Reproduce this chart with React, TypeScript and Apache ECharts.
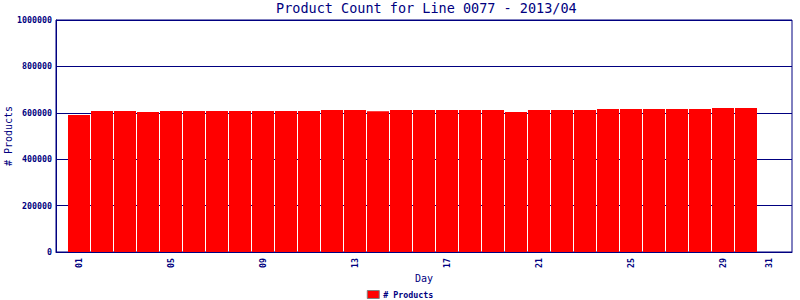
import React, { useEffect, useRef } from "react";
import * as echarts from "echarts";

const titleText = "Product Count for Line 0077 - 2013/04";
const days = [1,2,3,4,5,6,7,8,9,10,11,12,13,14,15,16,17,18,19,20,21,22,23,24,25,26,27,28,29,30];
const products = [
  590000, 608000, 608000, 603000, 608000, 608000, 608000, 608000, 608000, 608000,
  608000, 612000, 612000, 607000, 612000, 612000, 612000, 612000, 612000, 603000,
  612000, 612000, 612000, 616000, 616000, 616000, 616000, 616000, 621000, 621000,
];
const xLabelDays = [1, 5, 9, 13, 17, 21, 25, 29, 31];
const seriesName = "# Products";

const NAVY = "#000080";
const MONO = "'DejaVu Sans Mono', monospace";

export default function App() {
  const ref = useRef<HTMLDivElement>(null);
  useEffect(() => {
    if (!ref.current) return;
    const chart = echarts.init(ref.current, undefined, { renderer: "svg" });
    chart.setOption({
      animation: false,
      backgroundColor: "#ffffff",
      title: {
        text: titleText,
        left: 276,
        top: 1,
        padding: 0,
        textStyle: { fontFamily: MONO, fontSize: 13.5, fontWeight: "normal", color: NAVY },
      },
      legend: {
        data: [seriesName],
        left: "center",
        bottom: 1,
        padding: 0,
        itemWidth: 12,
        itemHeight: 8,
        itemGap: 4,
        icon: "rect",
        itemStyle: { borderColor: "#808080", borderWidth: 1 },
        textStyle: { fontFamily: MONO, fontSize: 8.3, fontWeight: "bold", color: NAVY, padding: [0, 0, 0, -1] },
      },
      grid: {
        left: 56,
        right: 8,
        top: 20,
        bottom: 48,
        containLabel: false,
        outerBoundsMode: "none",
        show: true,
        borderColor: NAVY,
        borderWidth: 1,
        backgroundColor: "transparent",
      },
      xAxis: {
        type: "value",
        min: 0,
        max: 32,
        interval: 1,
        name: "Day",
        nameLocation: "middle",
        nameGap: 21,
        nameMoveOverlap: false,
        nameTextStyle: { fontFamily: MONO, fontSize: 10, color: NAVY },
        axisLine: { show: true, lineStyle: { color: NAVY, width: 1 } },
        axisTick: { show: false },
        splitLine: { show: false },
        axisLabel: {
          rotate: 90,
          margin: 6,
          fontFamily: MONO,
          fontSize: 8.3,
          fontWeight: "bold",
          color: NAVY,
          showMinLabel: true,
          showMaxLabel: true,
          formatter: (v: number) => (xLabelDays.includes(v) ? String(v).padStart(2, "0") : ""),
        },
      },
      yAxis: {
        type: "value",
        min: 0,
        max: 1000000,
        interval: 200000,
        name: "# Products",
        nameLocation: "middle",
        nameGap: 43,
        nameMoveOverlap: false,
        nameTextStyle: { fontFamily: MONO, fontSize: 10, color: NAVY },
        axisLine: { show: true, lineStyle: { color: NAVY, width: 1 } },
        axisTick: { show: false },
        splitLine: { show: true, lineStyle: { color: NAVY, width: 1 } },
        axisLabel: {
          margin: 4,
          fontFamily: MONO,
          fontSize: 8.3,
          fontWeight: "bold",
          color: NAVY,
          formatter: (v: number) => String(v),
        },
      },
      series: [
        {
          name: seriesName,
          type: "bar",
          barWidth: 22,
          itemStyle: { color: "#ff0000" },
          data: days.map((d, i) => [d, products[i]]),
        },
      ],
    });
    return () => chart.dispose();
  }, []);
  return (
    <div
      ref={ref}
      style={{ position: "fixed", left: 0, top: 0, width: 800, height: 300, background: "#fff" }}
    />
  );
}
